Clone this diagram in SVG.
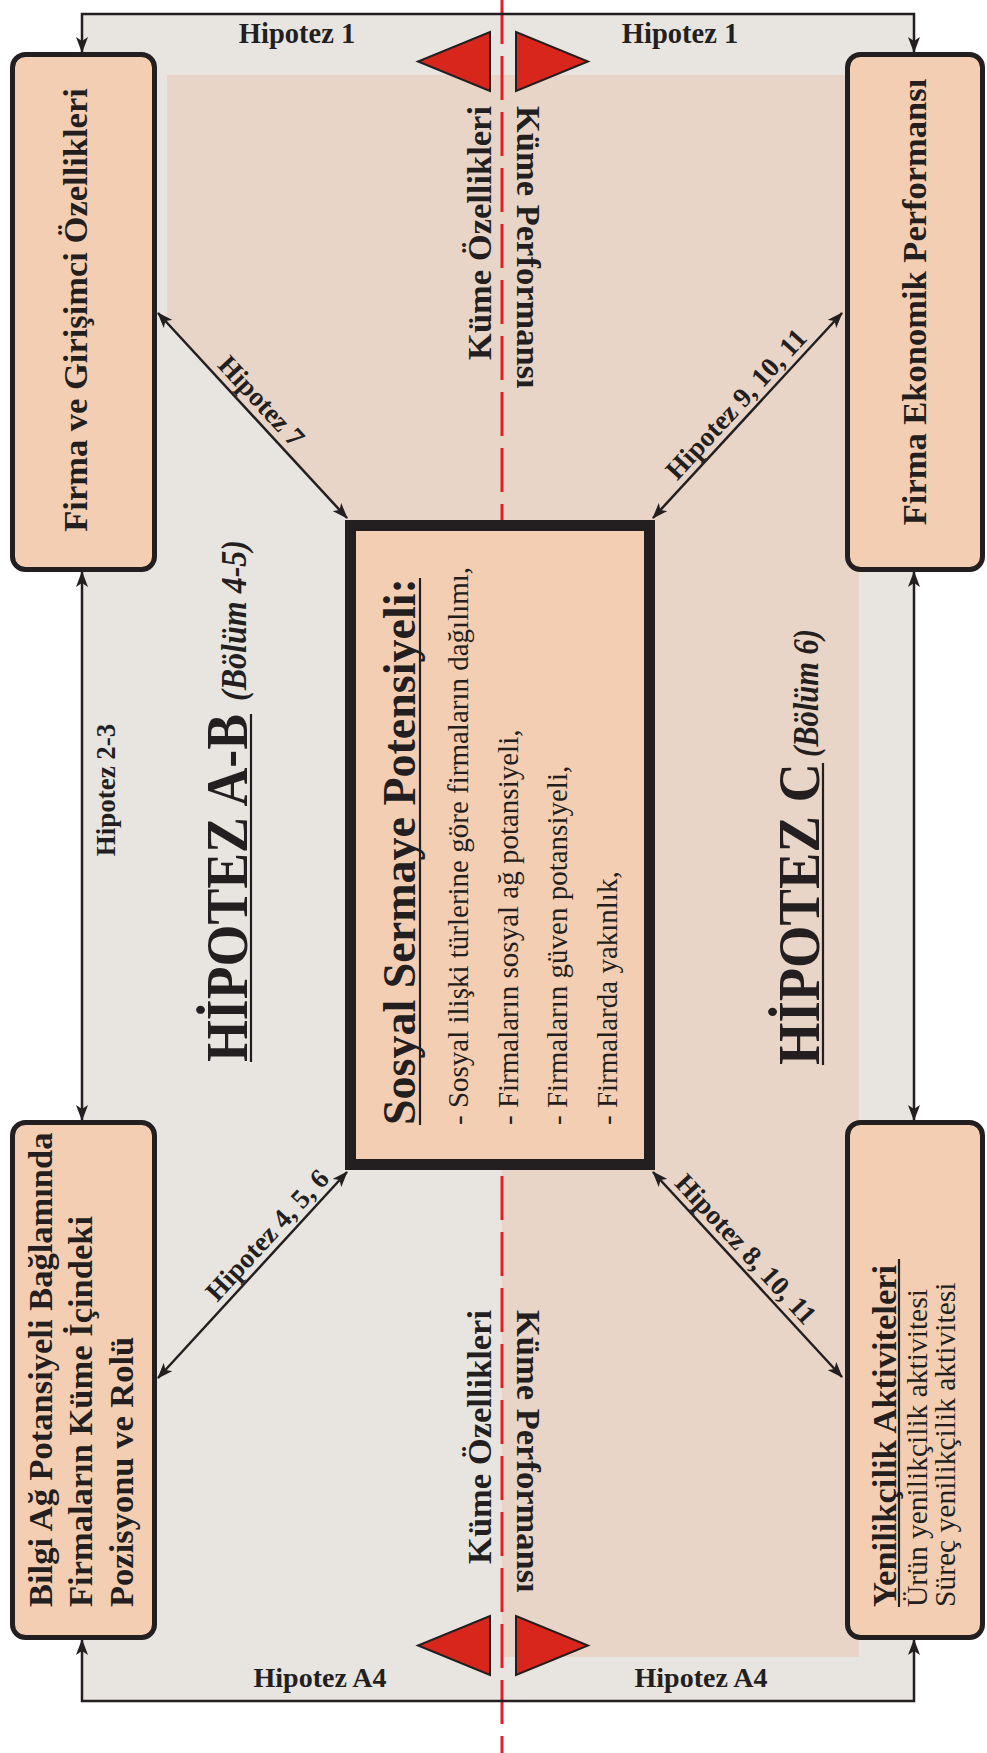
<svg xmlns="http://www.w3.org/2000/svg" width="987" height="1753" viewBox="0 0 987 1753">
<style>
.t{font-family:"Liberation Serif","Times New Roman",serif;fill:#231f20}
.b{font-weight:bold}
.i{font-style:italic}
.box{fill:#f4ceb3;stroke:#231f20;stroke-width:5}
.ln{stroke:#231f20;stroke-width:2.5;fill:none}
.tri{fill:#d9261c;stroke:#231f20;stroke-width:2}
.ul{stroke:#231f20;stroke-width:2.2}
</style>
<defs>
<marker id="ah" viewBox="0 0 16 12" refX="15" refY="6" markerWidth="16" markerHeight="12" markerUnits="userSpaceOnUse" orient="auto-start-reverse">
<path d="M0,0 L16,6 L0,12 L4,6 Z" fill="#231f20"/>
</marker>
</defs>
<rect x="0" y="0" width="987" height="1753" fill="#ffffff"/>
<g id="background">
<rect x="82" y="14" width="832" height="1687" fill="#e8e5e1"/>
<polygon points="167,75 859,75 859,1657 502,1657 502,520 347,520 167,323" fill="#e9d5c8"/>
<line x1="502" y1="0" x2="502" y2="1753" stroke="#e31e24" stroke-width="3" stroke-dasharray="44 12"/>
</g>
<g id="connectors">
<path class="ln" d="M82,52 V14 H914 V52" marker-start="url(#ah)" marker-end="url(#ah)"/>
<path class="ln" d="M82,1640 V1701 H914 V1640" marker-start="url(#ah)" marker-end="url(#ah)"/>
<line class="ln" x1="82" y1="572" x2="82" y2="1120" marker-start="url(#ah)" marker-end="url(#ah)"/>
<line class="ln" x1="914" y1="572" x2="914" y2="1120" marker-start="url(#ah)" marker-end="url(#ah)"/>
<line class="ln" x1="158" y1="313" x2="347" y2="518" marker-start="url(#ah)" marker-end="url(#ah)"/>
<line class="ln" x1="653" y1="518" x2="842" y2="313" marker-start="url(#ah)" marker-end="url(#ah)"/>
<line class="ln" x1="158" y1="1378" x2="347" y2="1172" marker-start="url(#ah)" marker-end="url(#ah)"/>
<line class="ln" x1="653" y1="1172" x2="842" y2="1377" marker-start="url(#ah)" marker-end="url(#ah)"/>
<text class="t b" font-size="28.5" x="297" y="43" text-anchor="middle">Hipotez 1</text>
<text class="t b" font-size="28.5" x="680" y="43" text-anchor="middle">Hipotez 1</text>
<text class="t b" font-size="28" x="320" y="1687" text-anchor="middle">Hipotez A4</text>
<text class="t b" font-size="28" x="701" y="1687" text-anchor="middle">Hipotez A4</text>
<text class="t b" font-size="27" transform="translate(115,790) rotate(-90)" text-anchor="middle">Hipotez 2-3</text>
<text class="t b" font-size="27.5" transform="translate(249.5,412) rotate(47.3)" y="-7" text-anchor="middle">Hipotez 7</text>
<text class="t b" font-size="27.5" transform="translate(748,415) rotate(-47.3)" y="-7" text-anchor="middle">Hipotez 9, 10, 11</text>
<text class="t b" font-size="27.5" transform="translate(279,1246) rotate(-47.3)" y="-7" text-anchor="middle">Hipotez 4, 5, 6</text>
<text class="t b" font-size="27.5" transform="translate(734,1260) rotate(47.3)" y="-7" text-anchor="middle">Hipotez 8, 10, 11</text>
</g>
<g id="markers-red">
<polygon class="tri" points="490,32 490,91 418,61.5"/>
<polygon class="tri" points="516,32 516,91 588,61.5"/>
<polygon class="tri" points="490,1616 490,1675 418,1645.5"/>
<polygon class="tri" points="516,1616 516,1675 588,1645.5"/>
</g>
<g id="cluster-labels">
<text class="t b" font-size="34.5" transform="translate(491,106) rotate(-90)" text-anchor="end">Küme Özellikleri</text>
<text class="t b" font-size="34.5" transform="translate(517,106) rotate(90)">Küme Performansı</text>
<text class="t b" font-size="34.5" transform="translate(491,1310) rotate(-90)" text-anchor="end">Küme Özellikleri</text>
<text class="t b" font-size="34.5" transform="translate(517,1310) rotate(90)">Küme Performansı</text>
</g>
<g id="hipotez-ab">
<text class="t b" font-size="60" transform="translate(247,1062) rotate(-90)" textLength="348" lengthAdjust="spacingAndGlyphs">HİPOTEZ A-B</text>
<line class="ul" x1="251" y1="1062" x2="251" y2="714"/>
<text class="t b i" font-size="36" transform="translate(246,701) rotate(-90)" textLength="161" lengthAdjust="spacingAndGlyphs">(Bölüm 4-5)</text>
</g>
<g id="hipotez-c">
<text class="t b" font-size="60" transform="translate(819,1065) rotate(-90)" textLength="302" lengthAdjust="spacingAndGlyphs">HİPOTEZ C</text>
<line class="ul" x1="823" y1="1065" x2="823" y2="763"/>
<text class="t b i" font-size="36" transform="translate(818,757) rotate(-90)" textLength="128" lengthAdjust="spacingAndGlyphs">(Bölüm 6)</text>
</g>
<g id="node-firma-girisimci">
<rect class="box" x="12.5" y="54.5" width="142" height="515" rx="13"/>
<text class="t b" font-size="34.5" transform="translate(87,310) rotate(-90)" text-anchor="middle">Firma ve Girişimci Özellikleri</text>
</g>
<g id="node-firma-ekonomik">
<rect class="box" x="847.5" y="54.5" width="135" height="515" rx="13"/>
<text class="t b" font-size="34.5" transform="translate(926,302) rotate(-90)" text-anchor="middle">Firma Ekonomik Performansı</text>
</g>
<g id="node-bilgi-ag">
<rect class="box" x="12.5" y="1122.5" width="142" height="515" rx="13"/>
<text class="t b" font-size="34.5" transform="translate(52,1607) rotate(-90)">Bilgi Ağ Potansiyeli Bağlamında</text>
<text class="t b" font-size="34.5" transform="translate(92,1607) rotate(-90)">Firmaların Küme İçindeki</text>
<text class="t b" font-size="34.5" transform="translate(133,1607) rotate(-90)">Pozisyonu ve Rolü</text>
</g>
<g id="node-yenilikcilik">
<rect class="box" x="847.5" y="1122.5" width="135" height="515" rx="13"/>
<text class="t b" font-size="34.5" transform="translate(896,1607) rotate(-90)">Yenilikçilik Aktiviteleri</text>
<line class="ul" x1="899" y1="1607" x2="899" y2="1259"/>
<text class="t" font-size="29.5" transform="translate(927,1607) rotate(-90)">Ürün yenilikçilik aktivitesi</text>
<text class="t" font-size="29.5" transform="translate(955,1607) rotate(-90)">Süreç yenilikçilik aktivitesi</text>
</g>
<g id="node-sosyal-sermaye">
<rect x="350.5" y="525.5" width="299" height="639" fill="#f4ceb3" stroke="#231f20" stroke-width="11"/>
<text class="t b" font-size="46" transform="translate(415,1125) rotate(-90)">Sosyal Sermaye Potensiyeli:</text>
<line class="ul" x1="420" y1="1125" x2="420" y2="578"/>
<text class="t" font-size="29" transform="translate(468,1125) rotate(-90)">- Sosyal ilişki türlerine göre firmaların dağılımı,</text>
<text class="t" font-size="29" transform="translate(518,1125) rotate(-90)">- Firmaların sosyal ağ potansiyeli,</text>
<text class="t" font-size="29" transform="translate(567,1125) rotate(-90)">- Firmaların güven potansiyeli,</text>
<text class="t" font-size="29" transform="translate(617,1125) rotate(-90)">- Firmalarda yakınlık,</text>
</g>
</svg>
